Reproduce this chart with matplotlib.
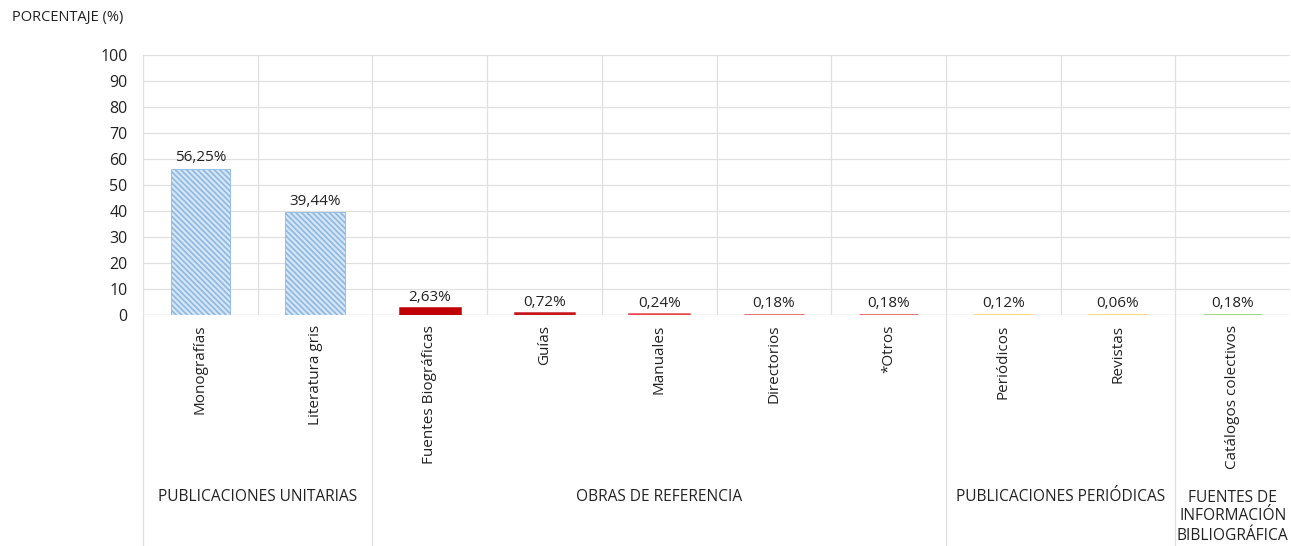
import matplotlib.pyplot as plt
import matplotlib.transforms as mtransforms

categorias = ['Monografías', 'Literatura gris', 'Fuentes Biográficas', 'Guías', 'Manuales',
              'Directorios', '*Otros', 'Periódicos', 'Revistas', 'Catálogos colectivos']
valores = [56.25, 39.44, 2.63, 0.72, 0.24, 0.18, 0.18, 0.12, 0.06, 0.18]
etiquetas = ['56,25%', '39,44%', '2,63%', '0,72%', '0,24%', '0,18%', '0,18%', '0,12%', '0,06%', '0,18%']
colores = ['#8db8e3', '#8db8e3', '#c00000', '#c8161d', '#e8474a', '#e8474a', '#e8474a',
           '#ffd35a', '#ffd35a', '#8fd05a']
grupos = ['PUBLICACIONES UNITARIAS', 'OBRAS DE REFERENCIA', 'PUBLICACIONES PERIÓDICAS',
          'FUENTES DE\nINFORMACIÓN\nBIBLIOGRÁFICA']
tam_grupos = [2, 5, 2, 1]

plt.rcParams['font.family'] = ['Open Sans', 'DejaVu Sans']
plt.rcParams['hatch.linewidth'] = 1.2

fig = plt.figure(figsize=(12.91, 5.46), dpi=100)
ax = fig.add_axes([143 / 1291, 231 / 546, 1147 / 1291, 260 / 546])

x = list(range(len(categorias)))
for i in x:
    if i < 2:
        ax.bar(i, valores[i], width=0.52, color='#d6e6f6', edgecolor=colores[i],
               hatch='\\\\\\\\\\\\', linewidth=0.6, zorder=3)
    else:
        ax.bar(i, valores[i], width=0.52, color=colores[i], edgecolor=colores[i],
               linewidth=1.8, zorder=3)
    ax.annotate(etiquetas[i], (i, valores[i]), xytext=(0, 2.5), textcoords='offset points',
                ha='center', va='bottom', fontsize=11, color='#222222')

ax.set_xlim(-0.5, len(categorias) - 0.5)
ax.set_ylim(0, 100)
ax.set_yticks(range(0, 101, 10))
ax.tick_params(axis='y', length=0, pad=11, labelsize=11.5, labelcolor='#222222')
ax.set_xticks(x)
ax.set_xticklabels(categorias, rotation=90, ha='center', va='top', fontsize=11, color='#222222')
ax.tick_params(axis='x', length=0, pad=7)

for s in ax.spines.values():
    s.set_visible(False)
ax.grid(axis='y', color='#e0e0e0', linewidth=0.9, zorder=0)
for b in range(len(categorias)):
    ax.axvline(b - 0.5, color='#e0e0e0', linewidth=0.9, zorder=0)
ax.axhline(0, color='#d9d9d9', linewidth=0.9, zorder=1)

# separadores y nombres de grupos
trans = mtransforms.blended_transform_factory(ax.transData, ax.transAxes)
inicio = 0
for g, n in zip(grupos, tam_grupos):
    ax.plot([inicio - 0.5, inicio - 0.5], [0, -0.9], transform=trans, color='#e0e0e0',
            linewidth=0.9, clip_on=False)
    centro = inicio + (n - 1) / 2
    if '\n' in g:
        ax.text(centro, -0.775, g, transform=trans, ha='center', va='center', fontsize=11.2,
                color='#222222', linespacing=1.25)
    else:
        ax.text(centro, -0.7, g, transform=trans, ha='center', va='center', fontsize=11.2,
                color='#222222')
    inicio += n

fig.text(12 / 1291, 1 - 18 / 546, 'PORCENTAJE (%)', ha='left', va='center', fontsize=10.5,
         color='#222222')

fig.savefig('out.png', dpi=100)
